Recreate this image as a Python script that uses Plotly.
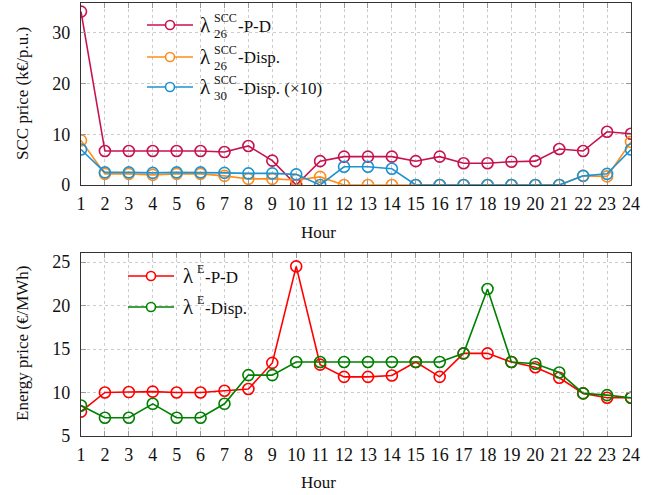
import plotly.graph_objects as go

hours = list(range(1, 25))
hour_ticks = [str(h) for h in hours]

scc_pd_26 = [34.2, 6.7, 6.7, 6.7, 6.7, 6.7, 6.5, 7.7, 4.8, 0.0, 4.7, 5.6,
             5.6, 5.6, 4.7, 5.6, 4.3, 4.3, 4.6, 4.7, 7.1, 6.7, 10.5, 10.1]
scc_disp_26 = [8.8, 2.2, 2.2, 2.0, 2.2, 2.2, 1.8, 1.2, 1.2, 1.0, 1.6, 0.0,
               0.0, 0.0, 0.0, 0.0, 0.0, 0.0, 0.0, 0.0, 0.0, 1.8, 1.7, 8.5]
scc_disp_30x10 = [7.0, 2.5, 2.5, 2.4, 2.5, 2.5, 2.4, 2.3, 2.3, 2.1, 0.0, 3.6,
                  3.6, 3.2, 0.0, 0.0, 0.0, 0.0, 0.0, 0.0, 0.0, 1.8, 2.2, 7.0]

energy_pd = [7.8, 10.0, 10.05, 10.1, 10.0, 10.0, 10.2, 10.4, 13.4, 24.5, 13.2, 11.8,
             11.8, 11.95, 13.5, 11.8, 14.5, 14.5, 13.5, 12.9, 11.7, 9.9, 9.4, 9.4]
energy_disp = [8.5, 7.1, 7.1, 8.7, 7.1, 7.1, 8.7, 12.0, 12.0, 13.5, 13.5, 13.5,
               13.5, 13.5, 13.5, 13.5, 14.5, 21.9, 13.5, 13.3, 12.3, 9.9, 9.7, 9.4]

scc_ticks = [0, 10, 20, 30]
energy_ticks = [5, 10, 15, 20, 25]

C_PD = "#c8124e"
C_OR = "#ff8c1a"
C_BL = "#1f93d0"
C_RED = "#ff0000"
C_GRN = "#008000"

FONT = "Liberation Serif"
W, H = 667, 495
L, R, T, B = 81, 36, 3, 59
PW, PH = W - L - R, H - T - B
top_y0, top_y1 = 3, 185
bot_y0, bot_y1 = 253.3, 436


def py(pix):
    return (H - B - pix) / PH


def px(pix):
    return (pix - L) / PW


fig = go.Figure()


def add_series(y, color, xa, ya):
    fig.add_trace(go.Scatter(
        x=hours, y=y, mode="lines+markers", xaxis=xa, yaxis=ya,
        line=dict(color=color, width=1.6),
        marker=dict(symbol="circle-open", size=11, color=color, line=dict(width=1.6, color=color)),
        showlegend=False, hoverinfo="skip"))


add_series(scc_pd_26, C_PD, "x", "y")
add_series(scc_disp_26, C_OR, "x", "y")
add_series(scc_disp_30x10, C_BL, "x", "y")
add_series(energy_pd, C_RED, "x2", "y2")
add_series(energy_disp, C_GRN, "x2", "y2")

axis_common = dict(
    showline=True, linecolor="#333", linewidth=1.2, mirror="allticks",
    ticks="inside", ticklen=5, tickcolor="#999", tickwidth=1,
    showgrid=True, gridcolor="#cccccc", griddash="dot", gridwidth=1,
    zeroline=False, tickfont=dict(family=FONT, size=18, color="#111"),
)

fig.update_layout(
    width=W, height=H,
    margin=dict(l=L, r=R, t=T, b=B),
    plot_bgcolor="white", paper_bgcolor="white",
    font=dict(family=FONT, color="#111"),
    xaxis=dict(domain=[0, 1], range=[1, 24], tickvals=hours, ticktext=hour_ticks,
               anchor="y", ticklabelstandoff=2, **axis_common),
    yaxis=dict(domain=[py(top_y1), py(top_y0)], range=[0, 35.9], tickvals=scc_ticks,
               anchor="x", ticklabelstandoff=6, **axis_common),
    xaxis2=dict(domain=[0, 1], range=[1, 24], tickvals=hours, ticktext=hour_ticks,
                anchor="y2", ticklabelstandoff=2, **axis_common),
    yaxis2=dict(domain=[py(bot_y1), py(bot_y0)], range=[5, 26], tickvals=energy_ticks,
                anchor="x2", ticklabelstandoff=6, **axis_common),
)

ann = []
shapes = []


def text(x, y, s, size=17, anchor="left", angle=0):
    ann.append(dict(x=px(x), y=py(y), xref="paper", yref="paper", text=s, showarrow=False,
                    xanchor=anchor, yanchor="middle", textangle=angle,
                    font=dict(family=FONT, size=size, color="#111")))


# axis titles
text(318, 232, "Hour", anchor="center")
text(318, 483, "Hour", anchor="center")
text(22, 94, "SCC price (k€/p.u.)", anchor="center", angle=-90)
text(22, 344, "Energy price (€/MWh)", anchor="center", angle=-90)


def legend_sample(x0, x1, y, color):
    shapes.append(dict(type="line", xref="paper", yref="paper", x0=px(x0), x1=px(x1),
                       y0=py(y), y1=py(y), line=dict(color=color, width=1.6)))
    cx = (x0 + x1) / 2
    shapes.append(dict(type="circle", xref="paper", yref="paper",
                       xsizemode="pixel", ysizemode="pixel",
                       xanchor=px(cx), yanchor=py(y), x0=-4.5, x1=4.5, y0=-4.5, y1=4.5,
                       fillcolor="white", line=dict(color=color, width=1.6)))


# top legend
top_rows = [(25, C_PD, "26", "-P-D"), (57, C_OR, "26", "-Disp."), (87, C_BL, "30", "-Disp. (×10)")]
for y, c, sub, tail in top_rows:
    legend_sample(147, 193, y, c)
    text(198, y, "λ", size=21)
    text(212, y - 7, "SCC", size=12)
    text(212, y + 8, sub, size=13)
    text(236, y + 1, tail, size=17)

# bottom legend
bot_rows = [(276, C_RED, "-P-D"), (307, C_GRN, "-Disp.")]
for y, c, tail in bot_rows:
    legend_sample(128, 174, y, c)
    text(181, y, "λ", size=21)
    text(195, y - 7, "E", size=12)
    text(203, y + 1, tail, size=17)

fig.update_layout(annotations=ann, shapes=shapes)
fig.write_html("out.html", post_script="document.body.style.margin='0';",
               config={"displayModeBar": False})
